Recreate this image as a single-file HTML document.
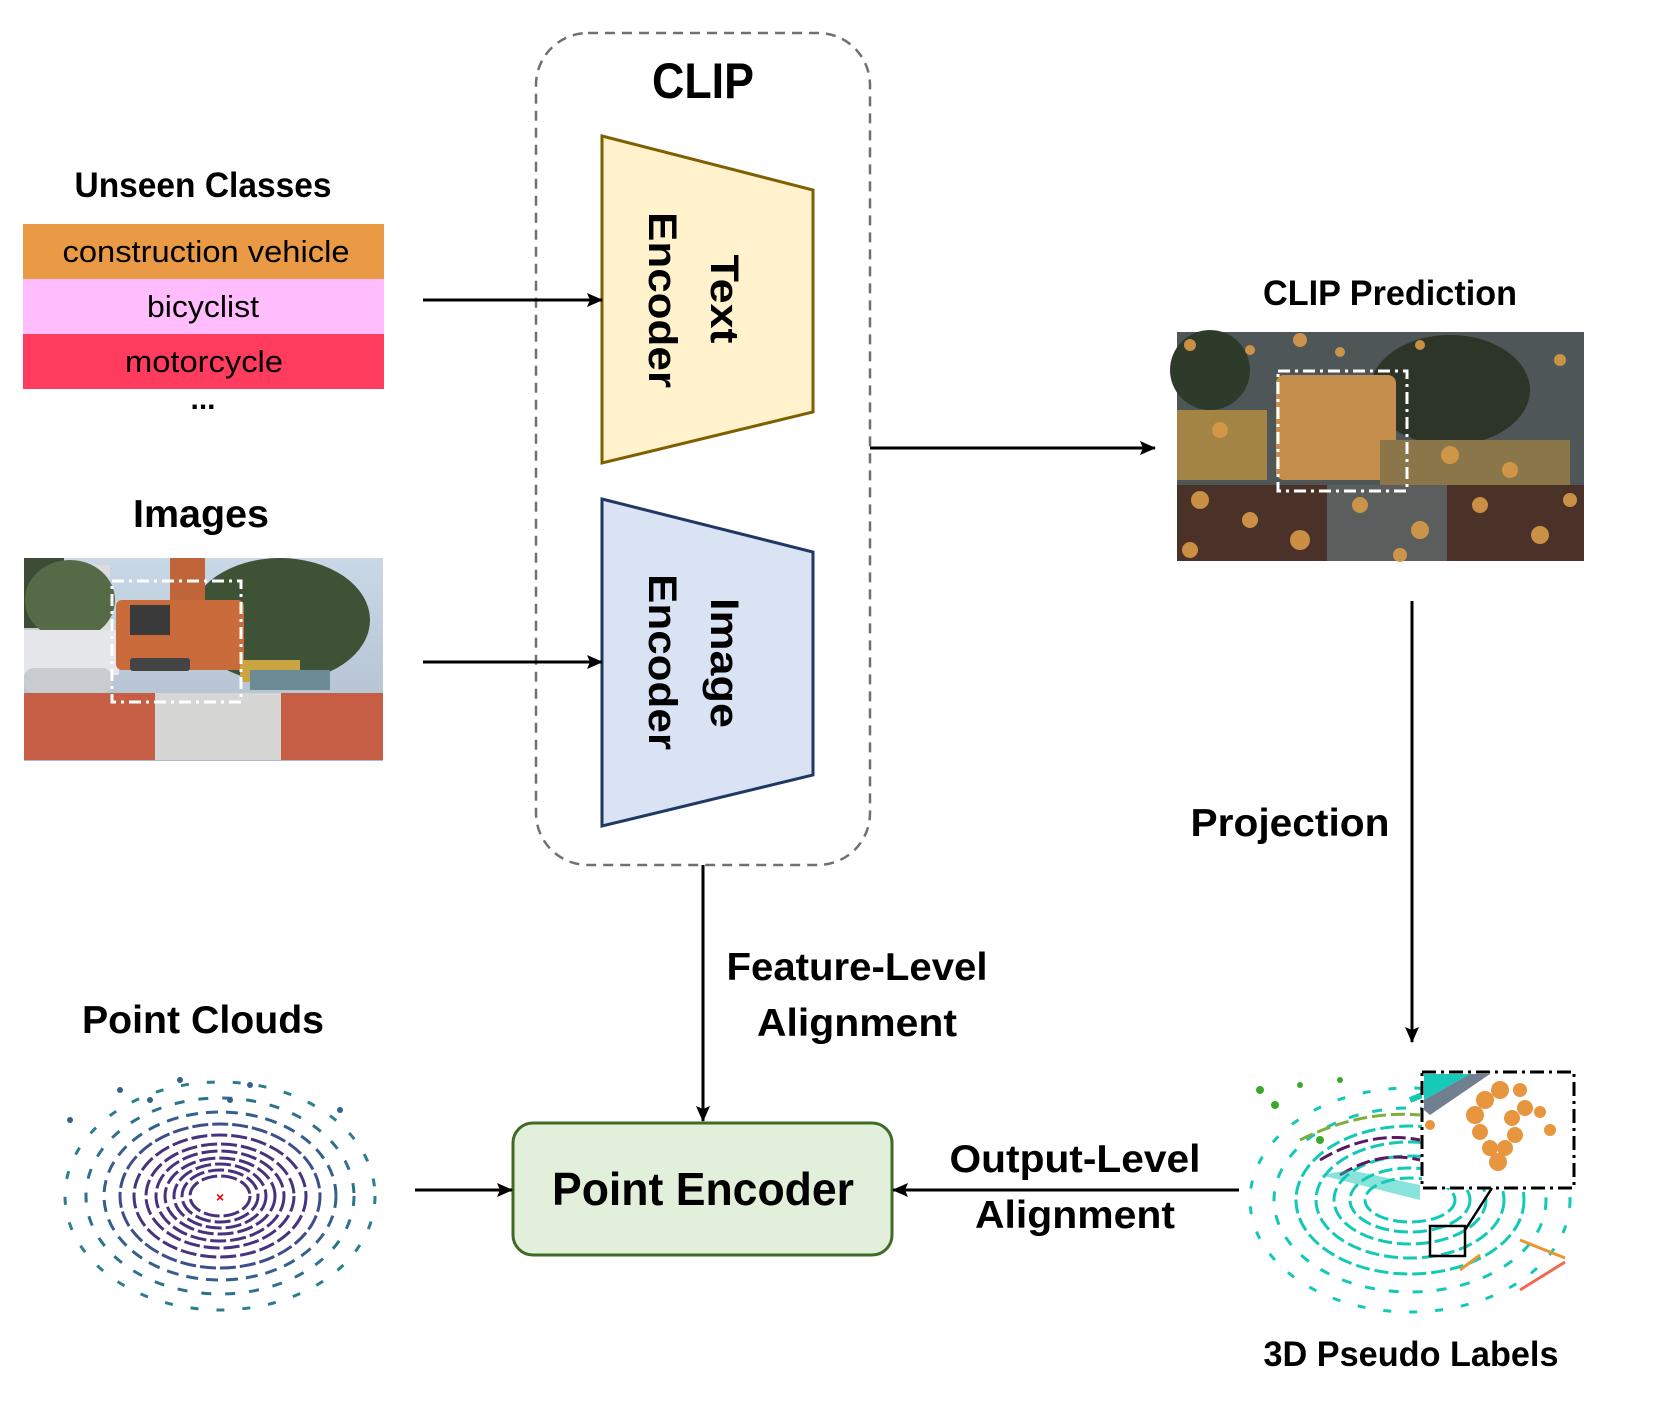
<!DOCTYPE html>
<html><head><meta charset="utf-8"><style>
html,body{margin:0;padding:0;background:#fff;}
svg{display:block;}
text{font-family:"Liberation Sans",sans-serif;font-weight:bold;fill:#000;}
</style></head><body>
<svg width="1661" height="1412" viewBox="0 0 1661 1412" xmlns="http://www.w3.org/2000/svg">
<defs>
<marker id="ah" markerWidth="16" markerHeight="14" refX="15" refY="7" orient="auto" markerUnits="userSpaceOnUse">
<path d="M0,0 L16,7 L0,14 L3,7 z" fill="#000"/></marker>
<linearGradient id="sky" x1="0" y1="0" x2="0" y2="1"><stop offset="0" stop-color="#c9d8e6"/><stop offset="1" stop-color="#aebccb"/></linearGradient>
</defs>

<rect x="536" y="33" width="334" height="832" rx="52" fill="none" stroke="#707070" stroke-width="2.5" stroke-dasharray="10,7"/>
<text x="703" y="98" font-size="50" text-anchor="middle" textLength="102" lengthAdjust="spacingAndGlyphs">CLIP</text>

<polygon points="602,136 813,190 813,412 602,463" fill="#fff2cc" stroke="#7f6000" stroke-width="3"/>
<text transform="translate(724,299) rotate(90)" font-size="40" text-anchor="middle" dominant-baseline="central" textLength="89" lengthAdjust="spacingAndGlyphs">Text</text>
<text transform="translate(662,300) rotate(90)" font-size="40" text-anchor="middle" dominant-baseline="central" textLength="176" lengthAdjust="spacingAndGlyphs">Encoder</text>

<polygon points="602,499 813,552 813,775 602,826" fill="#dae3f3" stroke="#1f3864" stroke-width="3"/>
<text transform="translate(724,663) rotate(90)" font-size="40" text-anchor="middle" dominant-baseline="central" textLength="130" lengthAdjust="spacingAndGlyphs">Image</text>
<text transform="translate(662,662) rotate(90)" font-size="40" text-anchor="middle" dominant-baseline="central" textLength="176" lengthAdjust="spacingAndGlyphs">Encoder</text>

<text x="203" y="197" font-size="35" text-anchor="middle" textLength="257" lengthAdjust="spacingAndGlyphs">Unseen Classes</text>
<rect x="23" y="224" width="361" height="55" fill="#ea9a45"/>
<rect x="23" y="279" width="361" height="55" fill="#ffbdfe"/>
<rect x="23" y="334" width="361" height="55" fill="#ff3b5e"/>
<text x="206" y="262" font-size="31" style="font-weight:normal" text-anchor="middle" textLength="287" lengthAdjust="spacingAndGlyphs">construction vehicle</text>
<text x="203" y="317" font-size="31" style="font-weight:normal" text-anchor="middle" textLength="112" lengthAdjust="spacingAndGlyphs">bicyclist</text>
<text x="204" y="372" font-size="31" style="font-weight:normal" text-anchor="middle" textLength="158" lengthAdjust="spacingAndGlyphs">motorcycle</text>
<text x="203" y="409" font-size="30" text-anchor="middle">...</text>
<line x1="423" y1="300" x2="602" y2="300" stroke="#000" stroke-width="3" marker-end="url(#ah)"/>

<text x="201" y="527" font-size="39" text-anchor="middle" textLength="136" lengthAdjust="spacingAndGlyphs">Images</text>
<g>
<rect x="24" y="558" width="359" height="203" fill="url(#sky)"/>
<rect x="24" y="558" width="40" height="70" fill="#3d4d35"/>
<rect x="60" y="565" width="50" height="65" fill="#dcdcdc"/>
<ellipse cx="280" cy="620" rx="90" ry="62" fill="#3e5236"/>
<ellipse cx="70" cy="600" rx="45" ry="40" fill="#556b48"/>
<rect x="24" y="630" width="95" height="45" fill="#e4e6ea"/>
<rect x="24" y="668" width="88" height="25" rx="10" fill="#c8ccd0"/>
<rect x="170" y="558" width="35" height="50" fill="#c0653a"/>
<rect x="116" y="600" width="128" height="70" rx="6" fill="#c96b3b"/>
<rect x="130" y="605" width="40" height="30" fill="#3a3a3a"/>
<rect x="130" y="658" width="60" height="13" rx="3" fill="#444"/>
<rect x="240" y="660" width="60" height="22" fill="#c9a440"/>
<rect x="250" y="670" width="80" height="20" fill="#6c8c95"/>
<rect x="24" y="693" width="131" height="67" fill="#c65d45"/>
<rect x="155" y="693" width="126" height="67" fill="#d6d7d5"/>
<rect x="281" y="693" width="102" height="67" fill="#c65d45"/>
<rect x="112" y="581" width="129" height="121" fill="none" stroke="#fff" stroke-width="3" stroke-dasharray="12,5,3,5"/>
</g>
<line x1="423" y1="662" x2="602" y2="662" stroke="#000" stroke-width="3" marker-end="url(#ah)"/>

<line x1="870" y1="448" x2="1155" y2="448" stroke="#000" stroke-width="3" marker-end="url(#ah)"/>
<text x="1390" y="305" font-size="35" text-anchor="middle" textLength="254" lengthAdjust="spacingAndGlyphs">CLIP Prediction</text>
<g>
<rect x="1177" y="332" width="407" height="229" fill="#4e5658"/>
<ellipse cx="1450" cy="390" rx="80" ry="55" fill="#2c3528"/>
<ellipse cx="1210" cy="370" rx="40" ry="40" fill="#2e3a2a"/>
<rect x="1177" y="410" width="90" height="70" fill="#a48445"/>
<rect x="1276" y="375" width="120" height="105" rx="8" fill="#c68e4d"/>
<rect x="1380" y="440" width="190" height="45" fill="#8a7648"/>
<rect x="1177" y="485" width="150" height="76" fill="#4a3228"/>
<rect x="1327" y="485" width="120" height="76" fill="#5a5e5c"/>
<rect x="1447" y="485" width="137" height="76" fill="#4a3228"/>
<g fill="#d89a48" opacity="0.9">
<circle cx="1190" cy="345" r="6"/><circle cx="1250" cy="350" r="5"/><circle cx="1300" cy="340" r="7"/><circle cx="1340" cy="352" r="5"/><circle cx="1420" cy="345" r="5"/><circle cx="1560" cy="360" r="6"/>
<circle cx="1200" cy="500" r="9"/><circle cx="1250" cy="520" r="8"/><circle cx="1300" cy="540" r="10"/><circle cx="1360" cy="505" r="8"/><circle cx="1420" cy="530" r="9"/><circle cx="1480" cy="505" r="8"/><circle cx="1540" cy="535" r="9"/><circle cx="1570" cy="500" r="7"/>
<circle cx="1220" cy="430" r="8"/><circle cx="1450" cy="455" r="9"/><circle cx="1510" cy="470" r="8"/><circle cx="1190" cy="550" r="8"/><circle cx="1400" cy="555" r="7"/>
</g>
<rect x="1278" y="371" width="129" height="120" fill="none" stroke="#fff" stroke-width="3" stroke-dasharray="12,5,3,5"/>
</g>

<line x1="1412" y1="601" x2="1412" y2="1042" stroke="#000" stroke-width="3" marker-end="url(#ah)"/>
<text x="1290" y="836" font-size="39" text-anchor="middle" textLength="199" lengthAdjust="spacingAndGlyphs">Projection</text>

<line x1="703" y1="865" x2="703" y2="1121" stroke="#000" stroke-width="3" marker-end="url(#ah)"/>
<text x="857" y="980" font-size="39" text-anchor="middle" textLength="261" lengthAdjust="spacingAndGlyphs">Feature-Level</text>
<text x="857" y="1036" font-size="39" text-anchor="middle" textLength="200" lengthAdjust="spacingAndGlyphs">Alignment</text>

<rect x="513" y="1123" width="379" height="132" rx="20" fill="#e2efda" stroke="#3f6b25" stroke-width="3"/>
<text x="703" y="1205" font-size="46" text-anchor="middle" textLength="302" lengthAdjust="spacingAndGlyphs">Point Encoder</text>

<text x="203" y="1033" font-size="39" text-anchor="middle" textLength="242" lengthAdjust="spacingAndGlyphs">Point Clouds</text>
<g fill="none" stroke="#46337e" stroke-width="3" stroke-dasharray="16,4">
<ellipse cx="220" cy="1196" rx="30" ry="20"/>
<ellipse cx="220" cy="1196" rx="38" ry="26"/>
<ellipse cx="220" cy="1196" rx="46" ry="32"/>
<ellipse cx="220" cy="1196" rx="55" ry="38"/>
<ellipse cx="220" cy="1196" rx="64" ry="45"/>
<ellipse cx="220" cy="1196" rx="74" ry="52"/>
<ellipse cx="220" cy="1196" rx="86" ry="61"/>
<ellipse cx="220" cy="1196" rx="100" ry="72" stroke="#3d4f8a"/>
<ellipse cx="220" cy="1196" rx="116" ry="84" stroke="#33608d" stroke-dasharray="12,8"/>
<ellipse cx="220" cy="1196" rx="134" ry="98" stroke="#2d718e" stroke-dasharray="10,14"/>
<ellipse cx="220" cy="1196" rx="155" ry="114" stroke="#2a7f8e" stroke-dasharray="8,18"/>
</g>
<ellipse cx="220" cy="1196" rx="28" ry="18" fill="#fff"/>
<text x="216" y="1202" font-size="14" style="fill:#e00">×</text>
<g fill="#33608d"><circle cx="120" cy="1090" r="3"/><circle cx="180" cy="1080" r="3"/><circle cx="250" cy="1085" r="3"/><circle cx="340" cy="1110" r="3"/><circle cx="70" cy="1120" r="3"/><circle cx="150" cy="1100" r="3"/><circle cx="230" cy="1100" r="3"/></g>
<line x1="415" y1="1190" x2="512" y2="1190" stroke="#000" stroke-width="3" marker-end="url(#ah)"/>

<line x1="1239" y1="1190" x2="893" y2="1190" stroke="#000" stroke-width="3" marker-end="url(#ah)"/>
<text x="1075" y="1172" font-size="39" text-anchor="middle" textLength="251" lengthAdjust="spacingAndGlyphs">Output-Level</text>
<text x="1075" y="1228" font-size="39" text-anchor="middle" textLength="200" lengthAdjust="spacingAndGlyphs">Alignment</text>

<g fill="none" stroke-width="3" stroke-dasharray="14,5">
<ellipse cx="1410" cy="1200" rx="45" ry="22" stroke="#12c9b8"/>
<ellipse cx="1410" cy="1200" rx="60" ry="32" stroke="#12c9b8"/>
<ellipse cx="1410" cy="1200" rx="76" ry="44" stroke="#12c9b8"/>
<ellipse cx="1410" cy="1200" rx="94" ry="58" stroke="#12c9b8"/>
<ellipse cx="1410" cy="1200" rx="114" ry="74" stroke="#12c9b8"/>
<ellipse cx="1410" cy="1200" rx="136" ry="92" stroke="#12c9b8" stroke-dasharray="10,14"/>
<ellipse cx="1410" cy="1200" rx="160" ry="112" stroke="#12c9b8" stroke-dasharray="8,18"/>
<path d="M1340,1175 Q1380,1150 1420,1160" stroke="#5a1860"/>
<path d="M1320,1160 Q1370,1130 1420,1140" stroke="#5a1860"/>
<path d="M1300,1140 Q1360,1110 1420,1115" stroke="#7fae3f"/>
</g>
<ellipse cx="1410" cy="1205" rx="40" ry="14" fill="#fff"/>
<g fill="#3aa82a"><circle cx="1260" cy="1090" r="4"/><circle cx="1275" cy="1105" r="4"/><circle cx="1300" cy="1085" r="3"/><circle cx="1340" cy="1080" r="3"/><circle cx="1320" cy="1140" r="4"/></g>
<path d="M1320,1175 L1350,1170 L1420,1185 L1420,1200 Z" fill="#12c9b8" opacity="0.5"/>
<path d="M1520,1240 L1565,1258 M1460,1270 L1480,1255" stroke="#e8972f" stroke-width="3"/>
<path d="M1520,1290 L1565,1262" stroke="#ee6a50" stroke-width="3"/>
<path d="M1410,1100 L1460,1080" stroke="#12c9b8" stroke-width="6"/>
<rect x="1422" y="1072" width="152" height="116" fill="#fff" stroke="#000" stroke-width="3" stroke-dasharray="14,5,3,5"/>
<path d="M1424,1074 L1470,1074 L1424,1100 Z" fill="#16c9b8"/>
<path d="M1470,1074 L1490,1074 L1430,1115 L1424,1110 L1424,1100 Z" fill="#708090"/>
<g fill="#e8953f">
<circle cx="1500" cy="1090" r="9"/><circle cx="1485" cy="1100" r="9"/><circle cx="1475" cy="1115" r="9"/><circle cx="1480" cy="1132" r="8"/><circle cx="1490" cy="1148" r="8"/><circle cx="1498" cy="1162" r="9"/><circle cx="1505" cy="1148" r="8"/><circle cx="1515" cy="1135" r="8"/><circle cx="1512" cy="1118" r="8"/><circle cx="1525" cy="1108" r="8"/><circle cx="1540" cy="1112" r="6"/><circle cx="1520" cy="1090" r="7"/><circle cx="1550" cy="1130" r="6"/><circle cx="1430" cy="1125" r="5"/>
</g>
<rect x="1430" y="1226" width="35" height="30" fill="none" stroke="#000" stroke-width="2.5"/>
<line x1="1465" y1="1230" x2="1492" y2="1188" stroke="#000" stroke-width="2.5"/>
<text x="1411" y="1366" font-size="35" text-anchor="middle" textLength="295" lengthAdjust="spacingAndGlyphs">3D Pseudo Labels</text>
</svg>
</body></html>
